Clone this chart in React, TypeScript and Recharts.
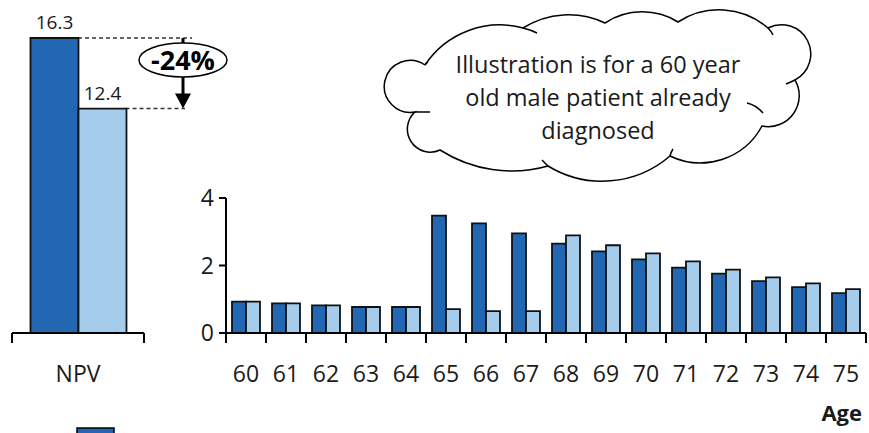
import { BarChart, Bar, XAxis, YAxis, LabelList, ReferenceArea } from 'recharts';

const ages = ['60', '61', '62', '63', '64', '65', '66', '67', '68', '69', '70', '71', '72', '73', '74', '75'];
const ageBefore = [0.93, 0.88, 0.82, 0.77, 0.77, 3.48, 3.25, 2.95, 2.65, 2.42, 2.18, 1.94, 1.76, 1.54, 1.36, 1.18];
const ageAfter = [0.93, 0.88, 0.82, 0.77, 0.77, 0.71, 0.65, 0.65, 2.89, 2.6, 2.36, 2.12, 1.88, 1.65, 1.47, 1.3];
const ageTicks = [0, 2, 4];

const npvLabels = ['NPV'];
const npvBefore = [16.3];
const npvAfter = [12.4];

const cloudLines = ['Illustration is for a 60 year', 'old male patient already', 'diagnosed'];

const DARK = '#2167B2';
const LIGHT = '#A6CCEC';
const INK = '#1a1a1a';
const FONT = '"Open Sans", "Noto Sans", sans-serif';

const W = 869;
const H = 433;

const AGE_MARGIN = { top: 198, right: 3, bottom: 0, left: 0 };
const AGE_YAXIS_W = 226;
const ageBand = (W - AGE_MARGIN.left - AGE_MARGIN.right - AGE_YAXIS_W) / ages.length;

const NPV_W = 240;
const NPV_MARGIN = { top: 38, right: 96, bottom: 0, left: 12 };
const npvBand = NPV_W - NPV_MARGIN.left - NPV_MARGIN.right;
const NPV_GAP = 0.14;

const ageData = ages.map((age, i) => ({ age, before: ageBefore[i], after: ageAfter[i] }));
const npvData = npvLabels.map((label, i) => ({ label, before: npvBefore[i], after: npvAfter[i] }));
const change = Math.round(((npvAfter[0] - npvBefore[0]) / npvBefore[0]) * 100);

// category ticks sit on the band edges, label in the middle
function BoundaryTick(props: any) {
  const { x, y, payload, index, visibleTicksCount, band } = props;
  const half = band / 2;
  const last = index === visibleTicksCount - 1;
  return (
    <g>
      <line x1={x - half} x2={x - half} y1={y} y2={y + 10} stroke="#000" strokeWidth={2} />
      {last && <line x1={x + half} x2={x + half} y1={y} y2={y + 10} stroke="#000" strokeWidth={2} />}
      <text x={x} y={y + 40} textAnchor="middle" dominantBaseline="central" fontSize={23} fill={INK}>
        {payload.value}
      </text>
    </g>
  );
}

function DropAnnotation(props: any) {
  const { x, y, width, height } = props;
  const barW = (width * (1 - 2 * NPV_GAP)) / 2;
  const darkRight = x + width / 2;
  const lightRight = darkRight + barW;
  const cx = x + width + 39;
  const top = y;
  const bottom = y + height;
  const ry = 17;
  const cy = top + 22;
  return (
    <g>
      <line x1={darkRight} y1={top} x2={cx + 9} y2={top} stroke="#333" strokeWidth={1.5} strokeDasharray="4 3" />
      <line x1={lightRight} y1={bottom} x2={cx + 2} y2={bottom} stroke="#333" strokeWidth={1.5} strokeDasharray="4 3" />
      <line x1={cx} y1={top} x2={cx} y2={cy - ry} stroke="#000" strokeWidth={3} />
      <ellipse cx={cx} cy={cy} rx={44} ry={ry} fill="#fff" stroke="#000" strokeWidth={1.5} />
      <text x={cx} y={cy + 10} textAnchor="middle" fontSize={27} fontWeight={700} fill="#000">
        {`${change}%`}
      </text>
      <line x1={cx} y1={cy + ry} x2={cx} y2={bottom - 14} stroke="#000" strokeWidth={3} />
      <polygon points={`${cx - 8},${bottom - 15} ${cx + 8},${bottom - 15} ${cx},${bottom}`} fill="#000" />
    </g>
  );
}

const cloudPath =
  'M 425 65 A 90 90 0 0 1 523 28 A 85 85 0 0 1 605 23 A 68 68 0 0 1 678 22 ' +
  'A 75 75 0 0 1 768 28 A 29 29 0 0 1 795 80 A 31 31 0 0 1 762 126 A 70 70 0 0 1 670 156 ' +
  'A 104 104 0 0 1 548 166 A 134 134 0 0 1 440 150 A 23 23 0 0 1 415 112 A 26 26 0 1 1 425 65';

const cloudCurls = [
  'M 523 28 Q 531 30 537 33',
  'M 768 28 Q 771 31 773 35',
  'M 795 80 Q 791 82 786 84',
  'M 747 103 Q 756 105 763 113',
  'M 670 156 Q 671 152 673 149',
  'M 548 166 Q 545 163 542 160',
  'M 415 112 Q 422 112 430 112',
  'M 425 65 Q 426 63 428 62',
];

export default function App() {
  return (
    <div style={{ position: 'absolute', left: 0, top: 0, width: W, height: H, overflow: 'hidden', background: '#fff', fontFamily: FONT }}>
      <div style={{ position: 'absolute', left: 0, top: 0 }}>
        <BarChart width={W} height={H} data={ageData} margin={AGE_MARGIN} barCategoryGap="15%" barGap={0}>
          <XAxis
            dataKey="age"
            interval={0}
            height={100}
            tickSize={0}
            tickMargin={0}
            tickLine={false}
            axisLine={{ stroke: '#000', strokeWidth: 2 }}
            tick={(p: any) => <BoundaryTick {...p} band={ageBand} />}
            label={{
              content: ({ viewBox }: any) => (
                <text
                  x={viewBox.x + viewBox.width - 4}
                  y={viewBox.y + viewBox.height - 12}
                  textAnchor="end"
                  fontSize={22}
                  fontWeight={700}
                  fill={INK}
                >
                  Age
                </text>
              ),
            }}
          />
          <YAxis
            width={AGE_YAXIS_W}
            domain={[0, 4]}
            ticks={ageTicks}
            interval={0}
            tickSize={7}
            tickMargin={5}
            tick={{ fontSize: 23, fill: INK }}
            axisLine={{ stroke: '#000', strokeWidth: 2 }}
            tickLine={{ stroke: '#000', strokeWidth: 2 }}
          />
          <Bar dataKey="before" fill={DARK} stroke="#111" strokeWidth={1.8} isAnimationActive={false} />
          <Bar dataKey="after" fill={LIGHT} stroke="#111" strokeWidth={1.8} isAnimationActive={false} />
        </BarChart>
      </div>

      <div style={{ position: 'absolute', left: 0, top: 0 }}>
        <BarChart width={NPV_W} height={H} data={npvData} margin={NPV_MARGIN} barCategoryGap={`${NPV_GAP * 100}%`} barGap={0}>
          <XAxis
            dataKey="label"
            interval={0}
            height={100}
            tickSize={0}
            tickMargin={0}
            tickLine={false}
            axisLine={{ stroke: '#000', strokeWidth: 2 }}
            tick={(p: any) => <BoundaryTick {...p} band={npvBand} />}
          />
          <YAxis hide domain={[0, 'dataMax']} />
          <Bar dataKey="before" fill={DARK} stroke="#111" strokeWidth={1.8} isAnimationActive={false}>
            <LabelList dataKey="before" position="top" offset={9} fontSize={19} fill={INK} />
          </Bar>
          <Bar dataKey="after" fill={LIGHT} stroke="#111" strokeWidth={1.8} isAnimationActive={false}>
            <LabelList dataKey="after" position="top" offset={9} fontSize={19} fill={INK} />
          </Bar>
          <ReferenceArea y1={npvAfter[0]} y2={npvBefore[0]} ifOverflow="visible" shape={(p: any) => <DropAnnotation {...p} />} />
        </BarChart>
      </div>

      <svg width={W} height={H} style={{ position: 'absolute', left: 0, top: 0, pointerEvents: 'none' }}>
        <path d={cloudPath} fill="#fff" stroke="#000" strokeWidth={1.5} />
        {cloudCurls.map((d) => (
          <path key={d} d={d} fill="none" stroke="#000" strokeWidth={1.5} />
        ))}
        <text x={598} textAnchor="middle" fontSize={23.5} fill={INK}>
          {cloudLines.map((line, i) => (
            <tspan key={line} x={598} y={73 + i * 33}>
              {line}
            </tspan>
          ))}
        </text>
        <rect x={77} y={428} width={37} height={12} fill={DARK} stroke="#000" strokeWidth={1.5} />
      </svg>
    </div>
  );
}
